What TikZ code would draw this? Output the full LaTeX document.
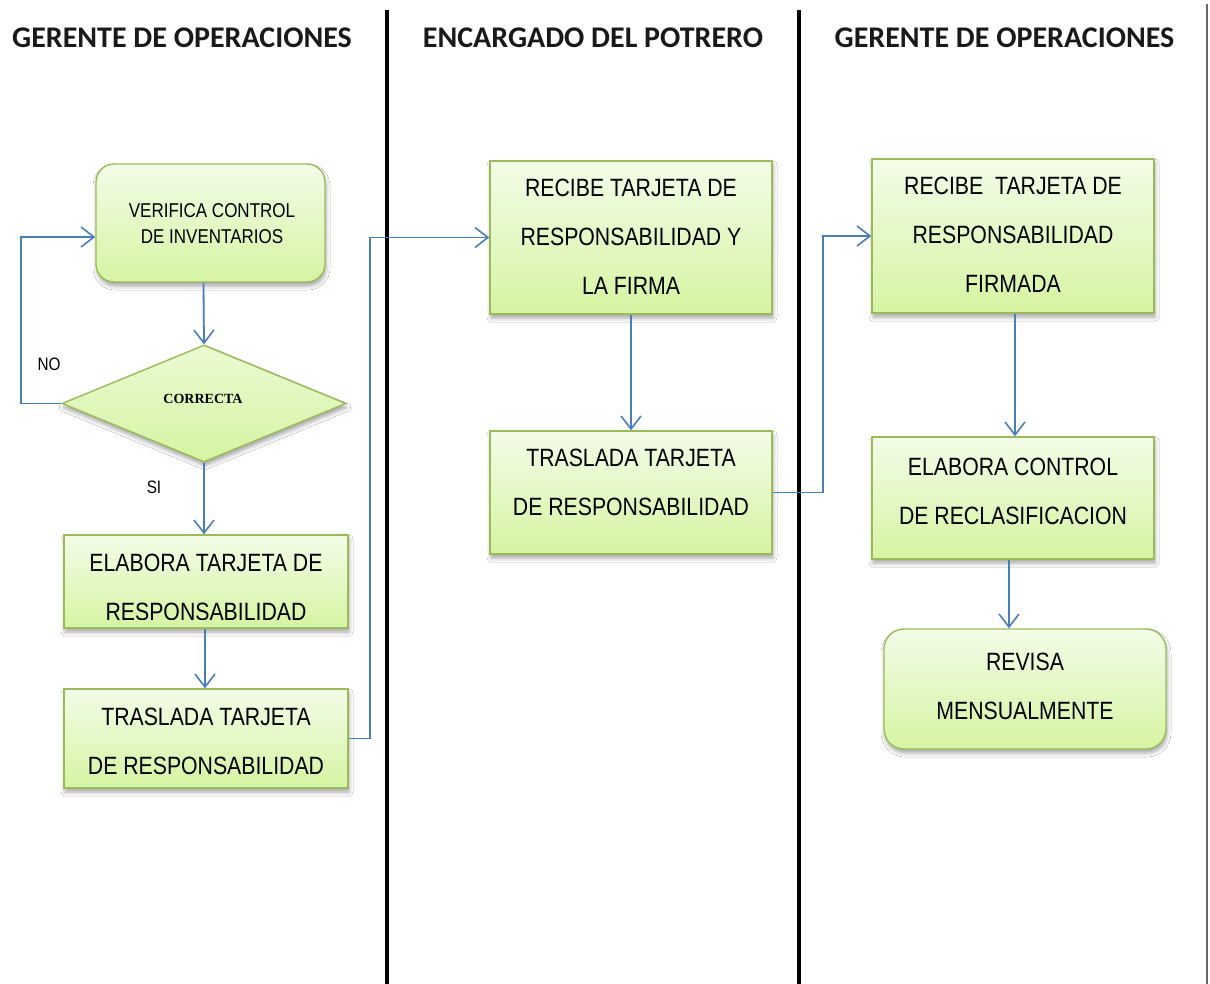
\documentclass[tikz,border=0pt]{standalone}
\usepackage{fontspec}
\setmainfont{Liberation Sans}
\newfontfamily\hdrfont{Carlito}
\newfontfamily\boxfont[FakeStretch=0.85]{Liberation Sans}
\newfontfamily\serfont{Liberation Serif}
\usetikzlibrary{shapes.geometric,shadows.blur,calc,arrows.meta}
\definecolor{boxborder}{HTML}{9BBB59}
\definecolor{boxtop}{HTML}{F3FCE8}
\definecolor{boxbot}{HTML}{D5F4A2}
\definecolor{arrblue}{HTML}{4A7EBB}
\tikzset{
  box/.style={draw=boxborder, line width=1.4pt, top color=boxtop, bottom color=boxbot,
    blur shadow={shadow xshift=1pt, shadow yshift=-4pt, shadow blur radius=4pt, shadow opacity=35},
    inner sep=0pt},
  rbox/.style={box, rounded corners=18pt},
  hdr/.style={font=\hdrfont\bfseries\fontsize{30}{34}\selectfont, text=black!90},
  big/.style={font=\boxfont\fontsize{25}{49}\selectfont, align=center, inner sep=0pt},
  small/.style={font=\boxfont\fontsize{20}{26}\selectfont, align=center, inner sep=0pt},
  lbl/.style={font=\boxfont\fontsize{18}{20}\selectfont, inner sep=0pt},
  arr/.style={draw=arrblue, line width=1.8pt, -{Straight Barb[length=13pt,width=20pt,line width=1.6pt]}},
  lane/.style={line width=4pt, black}
}
\begin{document}
\begin{tikzpicture}[x=1pt,y=-1pt]
\useasboundingbox[fill=white] (0,0) rectangle (1210,984);
% lane separators
\draw[lane] (387,10) -- (387,984);
\draw[lane] (799,10) -- (799,984);
\draw[line width=2pt, black!60] (1207,4) -- (1207,984);
% headers
\node[hdr] (h1) at (182,38) {GERENTE DE OPERACIONES};
\node[hdr] (h2) at (593,38) {ENCARGADO DEL POTRERO};
\node[hdr] (h3) at (1004.5,38) {GERENTE DE OPERACIONES};
% lane 1
\node[rbox, minimum width=229pt, minimum height=118pt] (verif) at (210.5,223) {};
\node[small] (verift) at (212,224) {VERIFICA CONTROL\\DE INVENTARIOS};
\node[box, shape=diamond, shape aspect=2.43, top color=boxtop!70!boxbot, bottom color=boxbot,
  minimum width=284pt, minimum height=117pt] (dia) at (204,403.5) {};
\node[font=\serfont\bfseries\fontsize{14}{16}\selectfont, inner sep=0pt] (diat) at (203,399) {CORRECTA};
\node[lbl] (no) at (49,364) {NO};
\node[lbl] (si) at (154,487) {SI};
\node[box, minimum width=284pt, minimum height=93pt] (elab1) at (206,581.5) {};
\begin{scope}
\clip (64,535) rectangle (348,619.5);
\node[big] (elab1t) at (206,587) {ELABORA TARJETA DE\\RESPONSABILIDAD};
\end{scope}
\node[box, minimum width=284pt, minimum height=99pt] (tras1) at (206,738.5) {};
\node[big] (tras1t) at (206,741) {TRASLADA TARJETA\\DE RESPONSABILIDAD};
% lane 2
\node[box, minimum width=282pt, minimum height=153pt] (rec2) at (631,237.5) {};
\node[big] (rec2t) at (631,237) {RECIBE TARJETA DE\\RESPONSABILIDAD Y\\LA FIRMA};
\node[box, minimum width=282pt, minimum height=123pt] (tras2) at (631,492.5) {};
\node[big] (tras2t) at (631,482.5) {TRASLADA TARJETA\\DE RESPONSABILIDAD};
% lane 3
\node[box, minimum width=282pt, minimum height=154pt] (rec3) at (1013,236) {};
\node[big] (rec3t) at (1013,235) {RECIBE\ \ TARJETA DE\\RESPONSABILIDAD\\FIRMADA};
\node[box, minimum width=282pt, minimum height=122pt] (elab3) at (1013,498) {};
\node[big] (elab3t) at (1013,491) {ELABORA CONTROL\\DE RECLASIFICACION};
\node[rbox, rounded corners=20pt, minimum width=282pt, minimum height=120pt] (rev) at (1025,689) {};
\node[big] (revt) at (1025,686.5) {REVISA\\MENSUALMENTE};
% connectors
\coordinate (vs) at ($(verif.south)+(-7,0)$);
\coordinate (vin) at ($(verif.west)+(0,14)$);
\coordinate (e1s) at ($(elab1.south)+(-1,0)$);
\coordinate (r3s) at ($(rec3.south)+(2,0)$);
\coordinate (e3s) at ($(elab3.south)+(-4,0)$);
\draw[arr] (vs) -- (dia.north);
\draw[arr] (dia.west) -- ++(-40,0) |- (vin);
\draw[arr] (dia.south) -- (dia.south |- elab1.north);
\draw[arr] (e1s) -- (e1s |- tras1.north);
\draw[arr] (tras1.east) -- ++(21,0) |- (rec2.west);
\draw[arr] (rec2.south) -- (tras2.north);
\draw[arr] (tras2.east) -- ++(50,0) |- (rec3.west);
\draw[arr] (r3s) -- (r3s |- elab3.north);
\draw[arr] (e3s) -- (e3s |- rev.north);
\end{tikzpicture}
\end{document}
